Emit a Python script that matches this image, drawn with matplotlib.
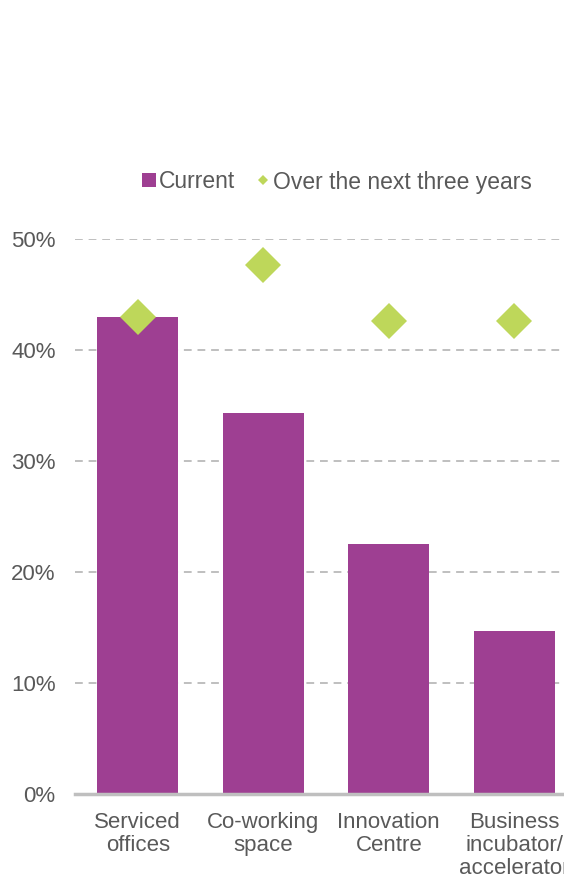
import matplotlib.pyplot as plt
from matplotlib.lines import Line2D
from matplotlib.ticker import FuncFormatter

plt.rcParams['font.family'] = ['Liberation Sans', 'DejaVu Sans']

categories = ['Serviced\noffices', 'Co-working\nspace', 'Innovation\nCentre',
              'Business\nincubator/\naccelerator']
current = [0.43, 0.343, 0.225, 0.147]
next_three_years = [0.43, 0.477, 0.426, 0.426]

purple = '#9E3F92'
green = '#BED75A'
grey_text = '#595959'
grid_grey = '#BFBFBF'

fig = plt.figure(figsize=(5.64, 8.77), dpi=100)
ax = fig.add_axes([75 / 564, 1 - 794 / 877, 502 / 564, 555 / 877])

x = list(range(len(categories)))
ax.bar(x, current, width=0.645, color=purple, zorder=2)
ax.plot(x, next_three_years, linestyle='none', marker='D', markersize=18.5,
        color=green, markeredgewidth=0, zorder=3, clip_on=False)

ax.set_xlim(-0.5, 3.5)
ax.set_ylim(0, 0.5)
ax.set_yticks([0, 0.1, 0.2, 0.3, 0.4, 0.5])
ax.yaxis.set_major_formatter(FuncFormatter(lambda v, p: f'{v * 100:.0f}%'))
ax.set_xticks(x)
ax.set_xticklabels(categories, linespacing=1.12)

ax.yaxis.grid(True, color=grid_grey, linestyle=(0, (4, 3)), linewidth=1.4, zorder=1)
ax.set_axisbelow(True)

for s in ['top', 'right', 'left']:
    ax.spines[s].set_visible(False)
ax.spines['bottom'].set_color(grid_grey)
ax.spines['bottom'].set_linewidth(2.5)
ax.spines['bottom'].set_zorder(4)

ax.tick_params(axis='y', length=0, pad=14, labelsize=16, labelcolor=grey_text)
ax.tick_params(axis='x', length=0, pad=13, labelsize=16, labelcolor=grey_text)

handles = [
    Line2D([], [], linestyle='none', marker='s', markersize=9.5, color=purple,
           markeredgewidth=0),
    Line2D([], [], linestyle='none', marker='D', markersize=5.5, color=green,
           markeredgewidth=0),
]
fig.legend(handles, ['Current', 'Over the next three years'], loc='center',
           bbox_to_anchor=(337 / 564, 1 - 182 / 877), ncol=2, frameon=False,
           fontsize=16.5, labelcolor=grey_text, handlelength=0.6,
           handletextpad=0.15, columnspacing=0.9)

fig.savefig('out.png', dpi=100)
